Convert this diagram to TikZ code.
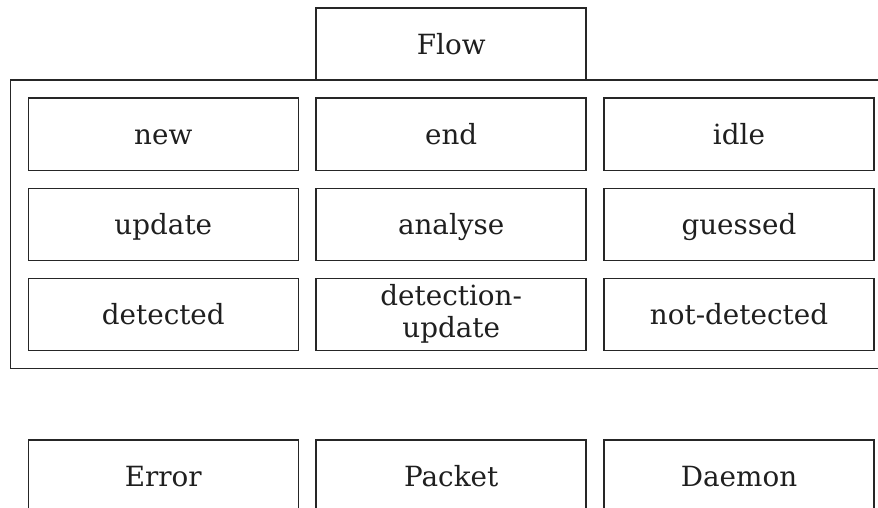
\documentclass[tikz,border=0pt]{standalone}
\usepackage{fontspec}
\setmainfont{DejaVu Serif}
\begin{document}
\begin{tikzpicture}[x=1pt,y=-1pt,
  box/.style={draw=black!85, line width=1.6pt, minimum width=270pt, minimum height=72pt,
    inner sep=0pt, align=center, text=black!88,
    font=\fontsize{27.8}{32}\selectfont},
  label box/.style={box, text height=26pt, text depth=5pt},
  group/.style={draw=black!85, line width=1.6pt}]
  \useasboundingbox (0,0) rectangle (878,508);
  \clip (0,0) rectangle (878,508);

  % Flow category and its container (open to the right)
  \node[label box] (flow) at (451.2,44.3) {Flow};
  \draw[group] (10.5,80.3) rectangle (892,368.3);

  % Flow events, three per row
  \node[label box] (new)      at (163.3,134.3) {new};
  \node[label box] (end)      at (451.2,134.3) {end};
  \node[label box] (idle)     at (739.0,134.3) {idle};

  \node[label box] (update)   at (163.3,224.3) {update};
  \node[label box] (analyse)  at (451.2,224.3) {analyse};
  \node[label box] (guessed)  at (739.0,224.3) {guessed};

  \node[label box] (detected)  at (163.3,314.3) {detected};
  \node[box]       (detupdate) at (451.2,314.3) {detection-\\update};
  \node[label box] (notdet)    at (739.0,314.3) {not-detected};

  % Remaining categories
  \node[label box] (error)  at (163.3,476) {Error};
  \node[label box] (packet) at (451.2,476) {Packet};
  \node[label box] (daemon) at (739.0,476) {Daemon};
\end{tikzpicture}
\end{document}
